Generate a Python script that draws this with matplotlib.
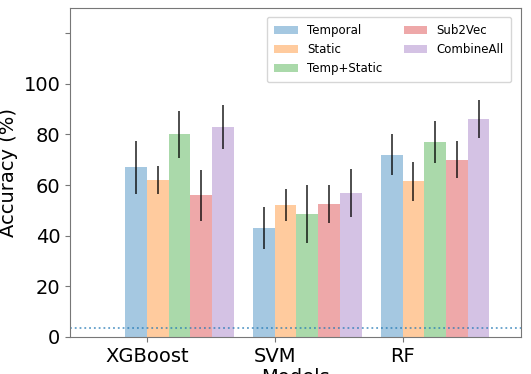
import numpy as np
import matplotlib.pyplot as plt

models = ['XGBoost', 'SVM', 'RF']
methods = ['Temporal', 'Static', 'Temp+Static', 'Sub2Vec', 'CombineAll']
colors = ['tab:blue', 'tab:orange', 'tab:green', 'tab:red', 'tab:purple']

# mean accuracy per method, one value per model (XGBoost, SVM, RF)
temporal = [67, 43, 72]
static = [62, 52, 61.5]
temp_static = [80, 48.5, 77]
sub2vec = [56, 52.5, 70]
combine_all = [83, 57, 86]

temporal_err = [10.5, 8.4, 8]
static_err = [5.5, 6.3, 7.7]
temp_static_err = [9.4, 11.4, 8.3]
sub2vec_err = [10, 7.4, 7.3]
combine_all_err = [8.8, 9.5, 7.5]

chance_level = 3.7

means = [temporal, static, temp_static, sub2vec, combine_all]
errs = [temporal_err, static_err, temp_static_err, sub2vec_err, combine_all_err]

fig = plt.figure(figsize=(5.31, 3.74), dpi=100)
ax = fig.add_axes([0.132, 0.099, 0.850, 0.880])

x = np.arange(len(models))
w = 0.17
for k in range(len(methods)):
    ax.bar(x + (k - 0.5) * w, means[k], w, yerr=errs[k], color=colors[k], alpha=0.4,
           label=methods[k], error_kw=dict(ecolor='black', elinewidth=1.3, alpha=0.75))

ax.axhline(chance_level, color='tab:blue', linestyle=':', linewidth=1.3, alpha=0.7)

ax.set_xlim(-0.6, 2.93)
ax.set_ylim(0, 130)
ax.set_xticks(x)
ax.set_xticklabels(models, fontsize=14)
ax.set_yticks([0, 20, 40, 60, 80, 100, 120])
ax.set_yticklabels(['0', '20', '40', '60', '80', '100', ''], fontsize=14)
ax.set_ylabel('Accuracy (%)', fontsize=14)
ax.set_xlabel('Models', fontsize=14, labelpad=2)
for s in ax.spines.values():
    s.set_color('#777777')
ax.tick_params(color='#777777')

ax.legend(ncol=2, fontsize=8.5, loc='upper right', columnspacing=1.8,
          borderpad=0.6, bbox_to_anchor=(0.99, 0.99))

fig.savefig('out.png', dpi=100)
